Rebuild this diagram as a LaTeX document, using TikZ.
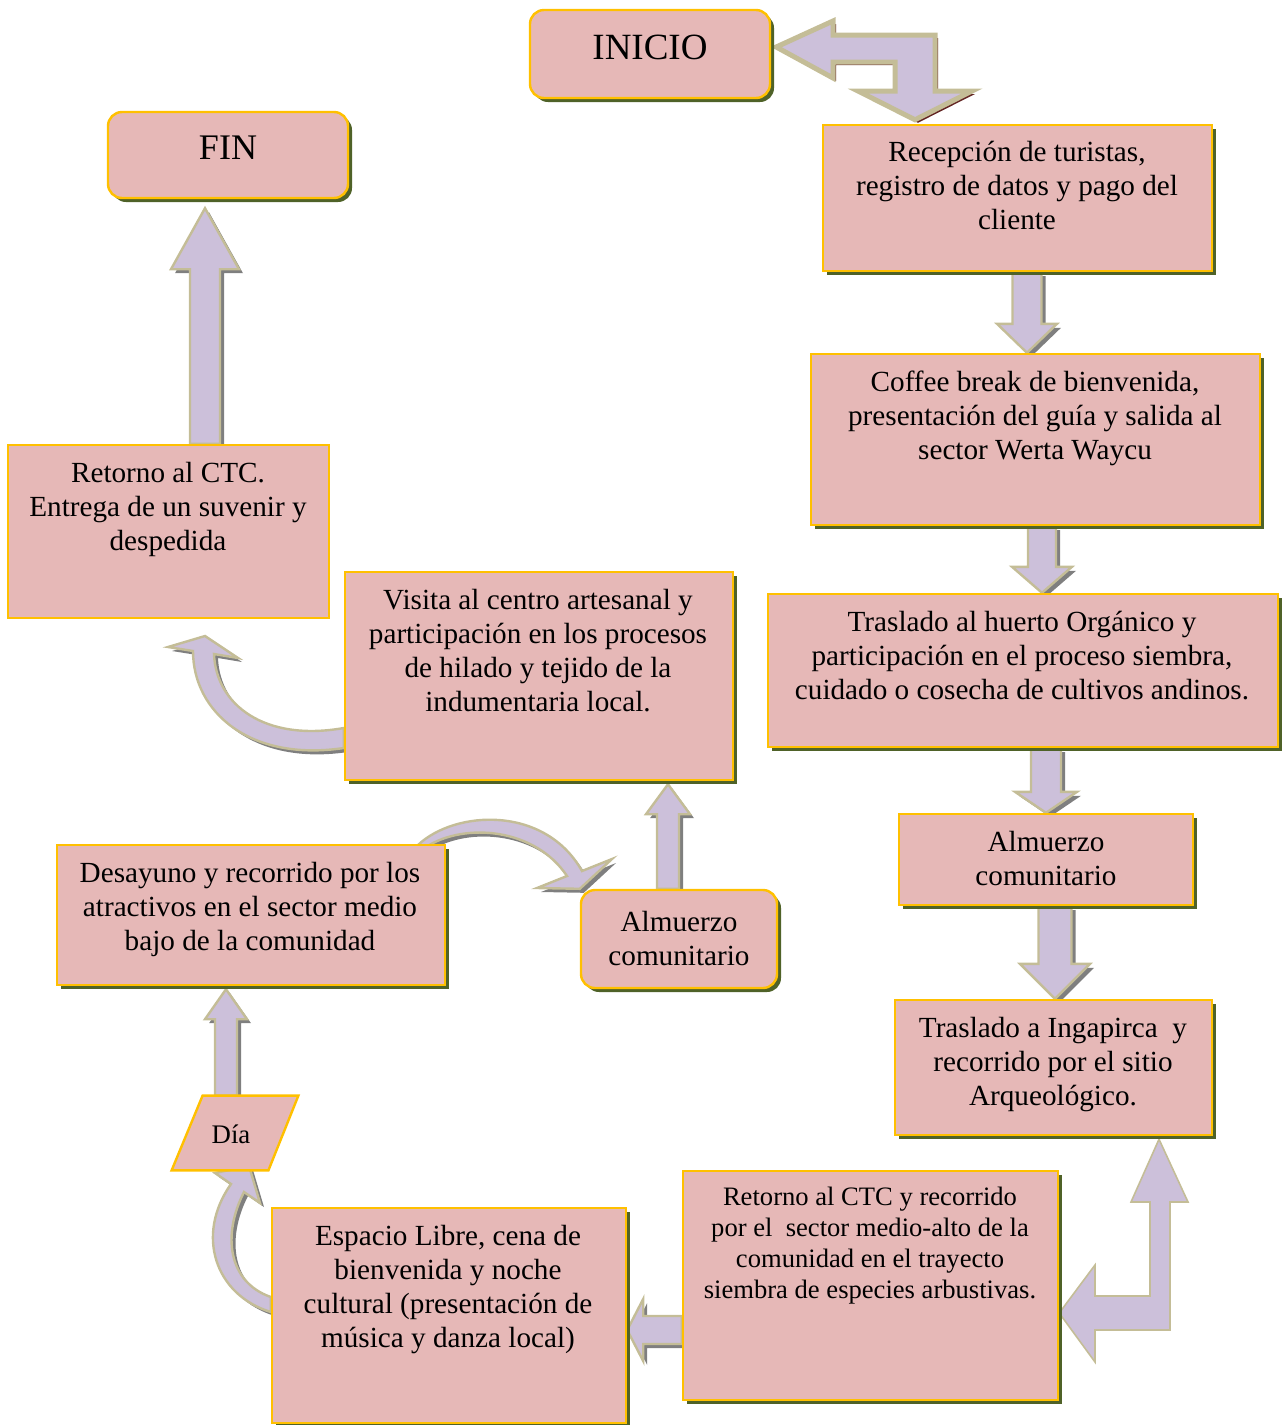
\documentclass[tikz,border=0pt]{standalone}
\usepackage{fontspec}
\setmainfont{Liberation Serif}
\usetikzlibrary{positioning,calc,fit,backgrounds,shadows}
\definecolor{boxfill}{HTML}{E6B8B7}
\definecolor{boxline}{HTML}{FFC000}
\definecolor{boxshade}{HTML}{4F6228}
\definecolor{arrowfill}{HTML}{CCC0DA}
\definecolor{arrowline}{HTML}{C4BD97}
\definecolor{arrowshade}{HTML}{7F7F7F}
\definecolor{redshade}{HTML}{632523}
% straight block arrow: tail, tip, half shaft, half head, head offset, style
\newcommand{\vblock}[6]{%
  \filldraw[#6] ($(#1)+(-#3,0)$) -- ($(#2)+(-#3,#5)$) -- ($(#2)+(-#4,#5)$) -- (#2)
    -- ($(#2)+(#4,#5)$) -- ($(#2)+(#3,#5)$) -- ($(#1)+(#3,0)$) -- cycle;}
\tikzset{
  flatbox/.style={draw=boxline, line width=1.2pt, fill=boxfill, inner sep=0pt},
  stepbox/.style={flatbox, drop shadow={shadow xshift=2pt, shadow yshift=-2pt, fill=boxshade, opacity=1}},
  endbox/.style={stepbox, rounded corners=7pt},
  steptext/.style={align=center, inner sep=0pt, font=\fontsize{14.6}{17}\selectfont},
  blockarrow/.style={fill=arrowfill, draw=arrowline, line width=1.2pt,
    drop shadow={shadow xshift=2pt, shadow yshift=-2pt, fill=arrowshade, opacity=1}},
  bentarrow/.style={fill=arrowfill, draw=arrowline, line width=0.8pt},
  startarrow/.style={fill=arrowfill, draw=arrowline, line width=2.5pt,
    drop shadow={shadow xshift=1.5pt, shadow yshift=-1.5pt, fill=redshade, opacity=1}},
}
\begin{document}
\begin{tikzpicture}[x=0.5pt, y=-0.5pt]
  \useasboundingbox (0,0) rectangle (1285,1425);

  % boxes
  \node[endbox, fit={(530,10) (770,98)}] (inicio) {};
  \node[endbox, fit={(108,112) (348,198)}] (fin) {};
  \node[stepbox, fit={(823,125) (1212,271)}] (recep) {};
  \node[stepbox, fit={(811,354) (1260,525)}] (coffee) {};
  \node[stepbox, fit={(768,594) (1278,747)}] (trasl) {};
  \node[stepbox, fit={(899,814) (1193,905)}] (almR) {};
  \node[stepbox, fit={(895,1000) (1212,1135)}] (ingap) {};
  \node[stepbox, fit={(683,1171) (1058,1400)}] (retR) {};
  \node[stepbox, fit={(272,1208) (626,1423)}] (espacio) {};
  \node[minimum width=48pt, minimum height=37pt, inner sep=0pt,
    font=\fontsize{13.4}{15}\selectfont] (dia) at (235,1133) {};
  \node[stepbox, fit={(57,845) (445,985)}] (desayuno) {};
  \node[endbox, fit={(581,890) (777,988)}] (almL) {};
  \node[stepbox, fit={(345,572) (733,780)}] (visita) {};
  \node[flatbox, fit={(8,445) (329,618)}] (retE) {};

  % texts
  \node[steptext, font=\fontsize{18.5}{22}\selectfont] (inicioT) at (650,47) {INICIO};
  \node[steptext, font=\fontsize{18}{22}\selectfont] (finT) at (228,148) {FIN};
  \node[steptext, anchor=north] (recepT) at (1017,141)
    {Recepción de turistas,\\registro de datos y pago del\\cliente};
  \node[steptext, anchor=north] (coffeeT) at (1035,371)
    {Coffee break de bienvenida,\\presentación del guía y salida al\\sector Werta Waycu};
  \node[steptext, anchor=north] (traslT) at (1022,611)
    {Traslado al huerto Orgánico y\\participación en el proceso siembra,\\cuidado o cosecha de cultivos andinos.};
  \node[steptext, anchor=north] (almRT) at (1046,831) {Almuerzo\\comunitario};
  \node[steptext, anchor=north] (ingapT) at (1053,1017)
    {Traslado a Ingapirca\ \ y\\recorrido por el sitio\\Arqueológico.};
  \node[steptext, anchor=north, font=\fontsize{13.3}{15.5}\selectfont] (retRT) at (870,1187)
    {Retorno al CTC y recorrido\\por el\ \ sector medio-alto de la\\comunidad en el trayecto\\siembra de especies arbustivas.};
  \node[steptext, anchor=north] (espacioT) at (448,1225)
    {Espacio Libre, cena de\\bienvenida y noche\\cultural (presentación de\\música y danza local)};
  \node[steptext, anchor=north] (desayunoT) at (250,862)
    {Desayuno y recorrido por los\\atractivos en el sector medio\\bajo de la comunidad};
  \node[steptext, anchor=north] (almLT) at (679,911) {Almuerzo\\comunitario};
  \node[steptext, anchor=north] (visitaT) at (538,589)
    {Visita al centro artesanal y\\participación en los procesos\\de hilado y tejido de la\\indumentaria local.};
  \node[steptext, anchor=north] (retET) at (168,462)
    {Retorno al CTC.\\Entrega de un suvenir y\\despedida};
  \node[steptext, font=\fontsize{13.4}{15}\selectfont] (diaT) at (231,1134) {Día};

  \begin{scope}[on background layer]
    % start arrow
    \coordinate (iniTip) at ($(inicio.east)+(5,-7)$);
    \coordinate (recIn) at (915,0 |- recep.north);
    \coordinate (recTip) at ($(recIn)+(0,-4)$);
    \filldraw[startarrow] (iniTip) -- (833,21) -- (833,35) -- (935,35) -- (935,91) -- (972,91)
      -- (recTip) -- (858,91) -- (895,91) -- (895,62) -- (833,62) -- (833,78) -- cycle;

    % down arrows
    \coordinate (d1a) at (1027,0 |- recep.south);
    \coordinate (d1b) at (1027,0 |- coffee.north);
    \vblock{d1a}{d1b}{14.5}{30}{-29}{blockarrow}
    \coordinate (d2a) at (1042,0 |- coffee.south);
    \coordinate (d2b) at (1042,0 |- trasl.north);
    \vblock{d2a}{d2b}{14}{30}{-26}{blockarrow}
    \coordinate (d3a) at (1046,0 |- trasl.south);
    \coordinate (d3b) at (1046,0 |- almR.north);
    \vblock{d3a}{d3b}{15}{31}{-21}{blockarrow}
    \coordinate (d4a) at (1055,0 |- almR.south);
    \coordinate (d4b) at (1055,0 |- ingap.north);
    \vblock{d4a}{d4b}{16.5}{35}{-35}{blockarrow}

    % bent arrow under Ingapirca
    \coordinate (upTip) at ($(1159,0 |- ingap.south)+(0,3)$);
    \coordinate (leftTip) at (retR.east |- 0,1313);
    \filldraw[bentarrow] (upTip) -- (1188,1202) -- (1170,1202) -- (1170,1330) -- (1095,1330)
      -- (1095,1362) -- (leftTip) -- (1095,1265) -- (1095,1296) -- (1150,1296)
      -- (1150,1202) -- (1131,1202) -- cycle;

    % left arrow
    \coordinate (h1a) at (retR.west |- 0,1330);
    \coordinate (h1b) at (espacio.east |- 0,1330);
    \filldraw[blockarrow] ($(h1a)+(0,-14)$) -- ($(h1b)+(16,-14)$) -- ($(h1b)+(16,-31)$) -- (h1b)
      -- ($(h1b)+(16,31)$) -- ($(h1b)+(16,14)$) -- ($(h1a)+(0,14)$) -- cycle;

    % curved arrows
    \filldraw[blockarrow] (espacio.west |- 0,1312) .. controls (215,1295) and (195,1235) .. (231,1184)
      -- (215,1173) -- (249,1166) -- (260,1203) -- (244,1192)
      .. controls (222,1235) and (228,1282) .. (espacio.west |- 0,1297) -- cycle;
    \filldraw[blockarrow] (418,845) .. controls (455,810) and (545,805) .. (582,871)
      -- (612,859) -- (almL.north west) -- (537,888) -- (567,876)
      .. controls (535,828) and (465,822) .. (426,847) -- cycle;
    \filldraw[blockarrow] (visita.west |- 0,748) .. controls (250,762) and (193,712) .. (193,651)
      -- (168,647) -- (205,636) -- (238,658) -- (214,654)
      .. controls (216,705) and (265,742) .. (visita.west |- 0,728) -- cycle;

    % up arrows
    \coordinate (u1a) at (226,0 |- dia.north);
    \coordinate (u1b) at ($(226,0 |- desayuno.south)+(0,3)$);
    \vblock{u1a}{u1b}{11}{21}{30}{blockarrow}
    \coordinate (u2a) at (668,0 |- almL.north);
    \coordinate (u2b) at ($(668,0 |- visita.south)+(0,3)$);
    \vblock{u2a}{u2b}{11}{22}{30}{blockarrow}
    \coordinate (u3a) at (205,0 |- retE.north);
    \coordinate (u3b) at ($(205,0 |- fin.south)+(0,9)$);
    \vblock{u3a}{u3b}{15}{34}{61}{blockarrow}

    % Día parallelogram
    \filldraw[flatbox] ($(dia.south west)+(-15,0)$) -- ($(dia.north west)+(16,0)$)
      -- ($(dia.north east)+(15,0)$) -- ($(dia.south east)+(-15,0)$) -- cycle;
  \end{scope}
\end{tikzpicture}
\end{document}
